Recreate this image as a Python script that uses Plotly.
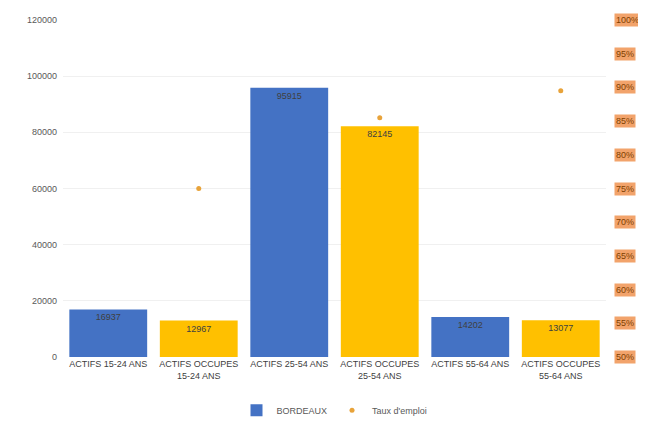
import plotly.graph_objects as go

categories = ["ACTIFS 15-24 ANS", "ACTIFS OCCUPES<br>15-24 ANS",
              "ACTIFS 25-54 ANS", "ACTIFS OCCUPES<br>25-54 ANS",
              "ACTIFS 55-64 ANS", "ACTIFS OCCUPES<br>55-64 ANS"]
bordeaux = [16937, 12967, 95915, 82145, 14202, 13077]
bar_colors = ["#4472C4", "#FFC000", "#4472C4", "#FFC000", "#4472C4", "#FFC000"]

taux_cats = [categories[1], categories[3], categories[5]]
taux = [0.75, 0.855, 0.895]

right_ticks = [0.50, 0.55, 0.60, 0.65, 0.70, 0.75, 0.80, 0.85, 0.90, 0.95, 1.00]
right_labels = ["50%", "55%", "60%", "65%", "70%", "75%", "80%", "85%", "90%", "95%", "100%"]

fig = go.Figure()
fig.add_trace(go.Bar(
    x=categories, y=bordeaux, name="BORDEAUX",
    marker=dict(color=bar_colors, line=dict(width=0)),
    text=[str(v) for v in bordeaux], textposition="inside", insidetextanchor="end",
    textfont=dict(size=9, color="#404040"),
))
fig.add_trace(go.Scatter(
    x=taux_cats, y=taux, name="Taux d'emploi", mode="markers", yaxis="y2",
    marker=dict(color="#E8A33A", size=5),
))

# right-axis labels with orange highlight
for v, lab in zip(right_ticks, right_labels):
    fig.add_annotation(x=1.0, xref="paper", xanchor="left", xshift=8,
                       y=v, yref="y2", text=lab, showarrow=False,
                       font=dict(size=9, color="#7F3F00"),
                       bgcolor="#F2A36B", borderpad=1)

fig.update_layout(
    width=646, height=421,
    margin=dict(l=55, r=48, t=12, b=72, autoexpand=False),
    paper_bgcolor="white", plot_bgcolor="white",
    font=dict(family="Liberation Sans", size=9, color="#595959"),
    bargap=0.14,
    xaxis=dict(tickfont=dict(size=9, color="#404040"), showline=False, ticks="",
               automargin=False),
    yaxis=dict(range=[0, 120000], dtick=20000, gridcolor="#F0F0F0", tickformat="d",
               zeroline=False, tickfont=dict(size=9, color="#595959"), ticksuffix="  ",
               automargin=False),
    yaxis2=dict(range=[0.5, 1.0], overlaying="y", side="right",
                showgrid=False, showticklabels=False, zeroline=False),
    legend=dict(orientation="h", x=0.5, xanchor="center", y=0.01, yanchor="bottom",
                yref="container", itemwidth=30,
                font=dict(size=9, color="#595959")),
)

fig.write_html("out.html")
